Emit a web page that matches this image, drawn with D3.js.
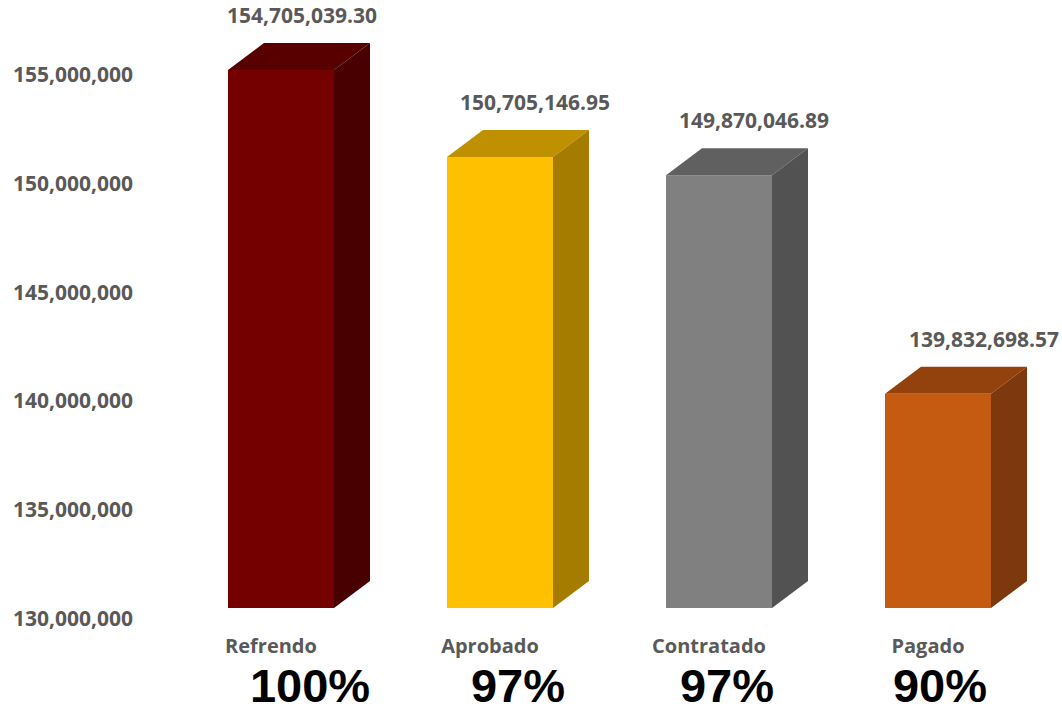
<!DOCTYPE html>
<html>
<head>
<meta charset="utf-8">
<script src="https://cdn.jsdelivr.net/npm/d3@7"></script>
<style>
  body { margin: 0; background: #fff; }
  svg { display: block; }
</style>
</head>
<body>
<svg id="chart" width="1062" height="711"></svg>
<script>
// ---- data ----
const categories = ["Refrendo", "Aprobado", "Contratado", "Pagado"];
const values = [154705039.30, 150705146.95, 149870046.89, 139832698.57];
const valueLabels = ["154,705,039.30", "150,705,146.95", "149,870,046.89", "139,832,698.57"];
const percentLabels = ["100%", "97%", "97%", "90%"];
const yTicks = [130000000, 135000000, 140000000, 145000000, 150000000, 155000000];

// ---- styles ----
const frontColors = ["#750000", "#FFC000", "#808080", "#C55A11"];
const topColors   = ["#580000", "#BF9000", "#606060", "#94420D"];
const sideColors  = ["#480000", "#A67C00", "#525252", "#7E380D"];
const labelShift  = [3, 17, 17, 28];
const pctShift    = [29, 18, 8, 2];
const FONT = "'Open Sans', Lato, sans-serif";

const svg = d3.select("#chart");
const depthX = 36, depthY = 27;

const y = d3.scaleLinear().domain([130000000, 155000000]).range([608, 608 - 25 * 21.78]);
const x = d3.scaleBand().domain(categories).range([228, 991]).paddingInner(0.516).paddingOuter(0).align(0);
const w = x.bandwidth();

// y axis labels (offset from the bar floor as in the 3D chart)
const axis = d3.axisLeft(y).tickValues(yTicks).tickSize(0).tickPadding(0)
  .tickFormat(d3.format(","));
const gAxis = svg.append("g").attr("transform", "translate(133,11)").call(axis);
gAxis.select(".domain").remove();
gAxis.selectAll("text")
  .attr("fill", "#595959")
  .style("font-family", FONT)
  .style("font-weight", "700")
  .style("font-size", "21px");

const bars = svg.append("g");
categories.forEach((c, i) => {
  const x0 = x(c), x1 = x0 + w;
  const yt = y(values[i]), yb = y(130000000);
  const g = bars.append("g");
  g.append("rect").attr("x", x0).attr("y", yt).attr("width", w).attr("height", yb - yt)
    .attr("fill", frontColors[i]);
  g.append("polygon")
    .attr("points", [[x0, yt], [x0 + depthX, yt - depthY], [x1 + depthX, yt - depthY], [x1, yt]].map(p => p.join(",")).join(" "))
    .attr("fill", topColors[i]);
  g.append("polygon")
    .attr("points", [[x1, yt], [x1 + depthX, yt - depthY], [x1 + depthX, yb - depthY], [x1, yb]].map(p => p.join(",")).join(" "))
    .attr("fill", sideColors[i]);

  svg.append("text")
    .attr("x", x0 + (w + depthX) / 2 + labelShift[i])
    .attr("y", yt - depthY - 20)
    .attr("text-anchor", "middle")
    .attr("fill", "#595959")
    .style("font-family", FONT)
    .style("font-weight", "700")
    .style("font-size", "21px")
    .text(valueLabels[i]);

  svg.append("text")
    .attr("x", x0 + w / 2 - 10)
    .attr("y", 653)
    .attr("text-anchor", "middle")
    .attr("fill", "#595959")
    .style("font-family", FONT)
    .style("font-weight", "700")
    .style("font-size", "20px")
    .text(c);

  svg.append("text")
    .attr("x", x0 + w / 2 + pctShift[i])
    .attr("y", 702)
    .attr("text-anchor", "middle")
    .attr("fill", "#000")
    .style("font-family", "'Liberation Sans', Arial, sans-serif")
    .style("font-weight", "700")
    .style("font-size", "47px")
    .text(percentLabels[i]);
});
</script>
</body>
</html>
